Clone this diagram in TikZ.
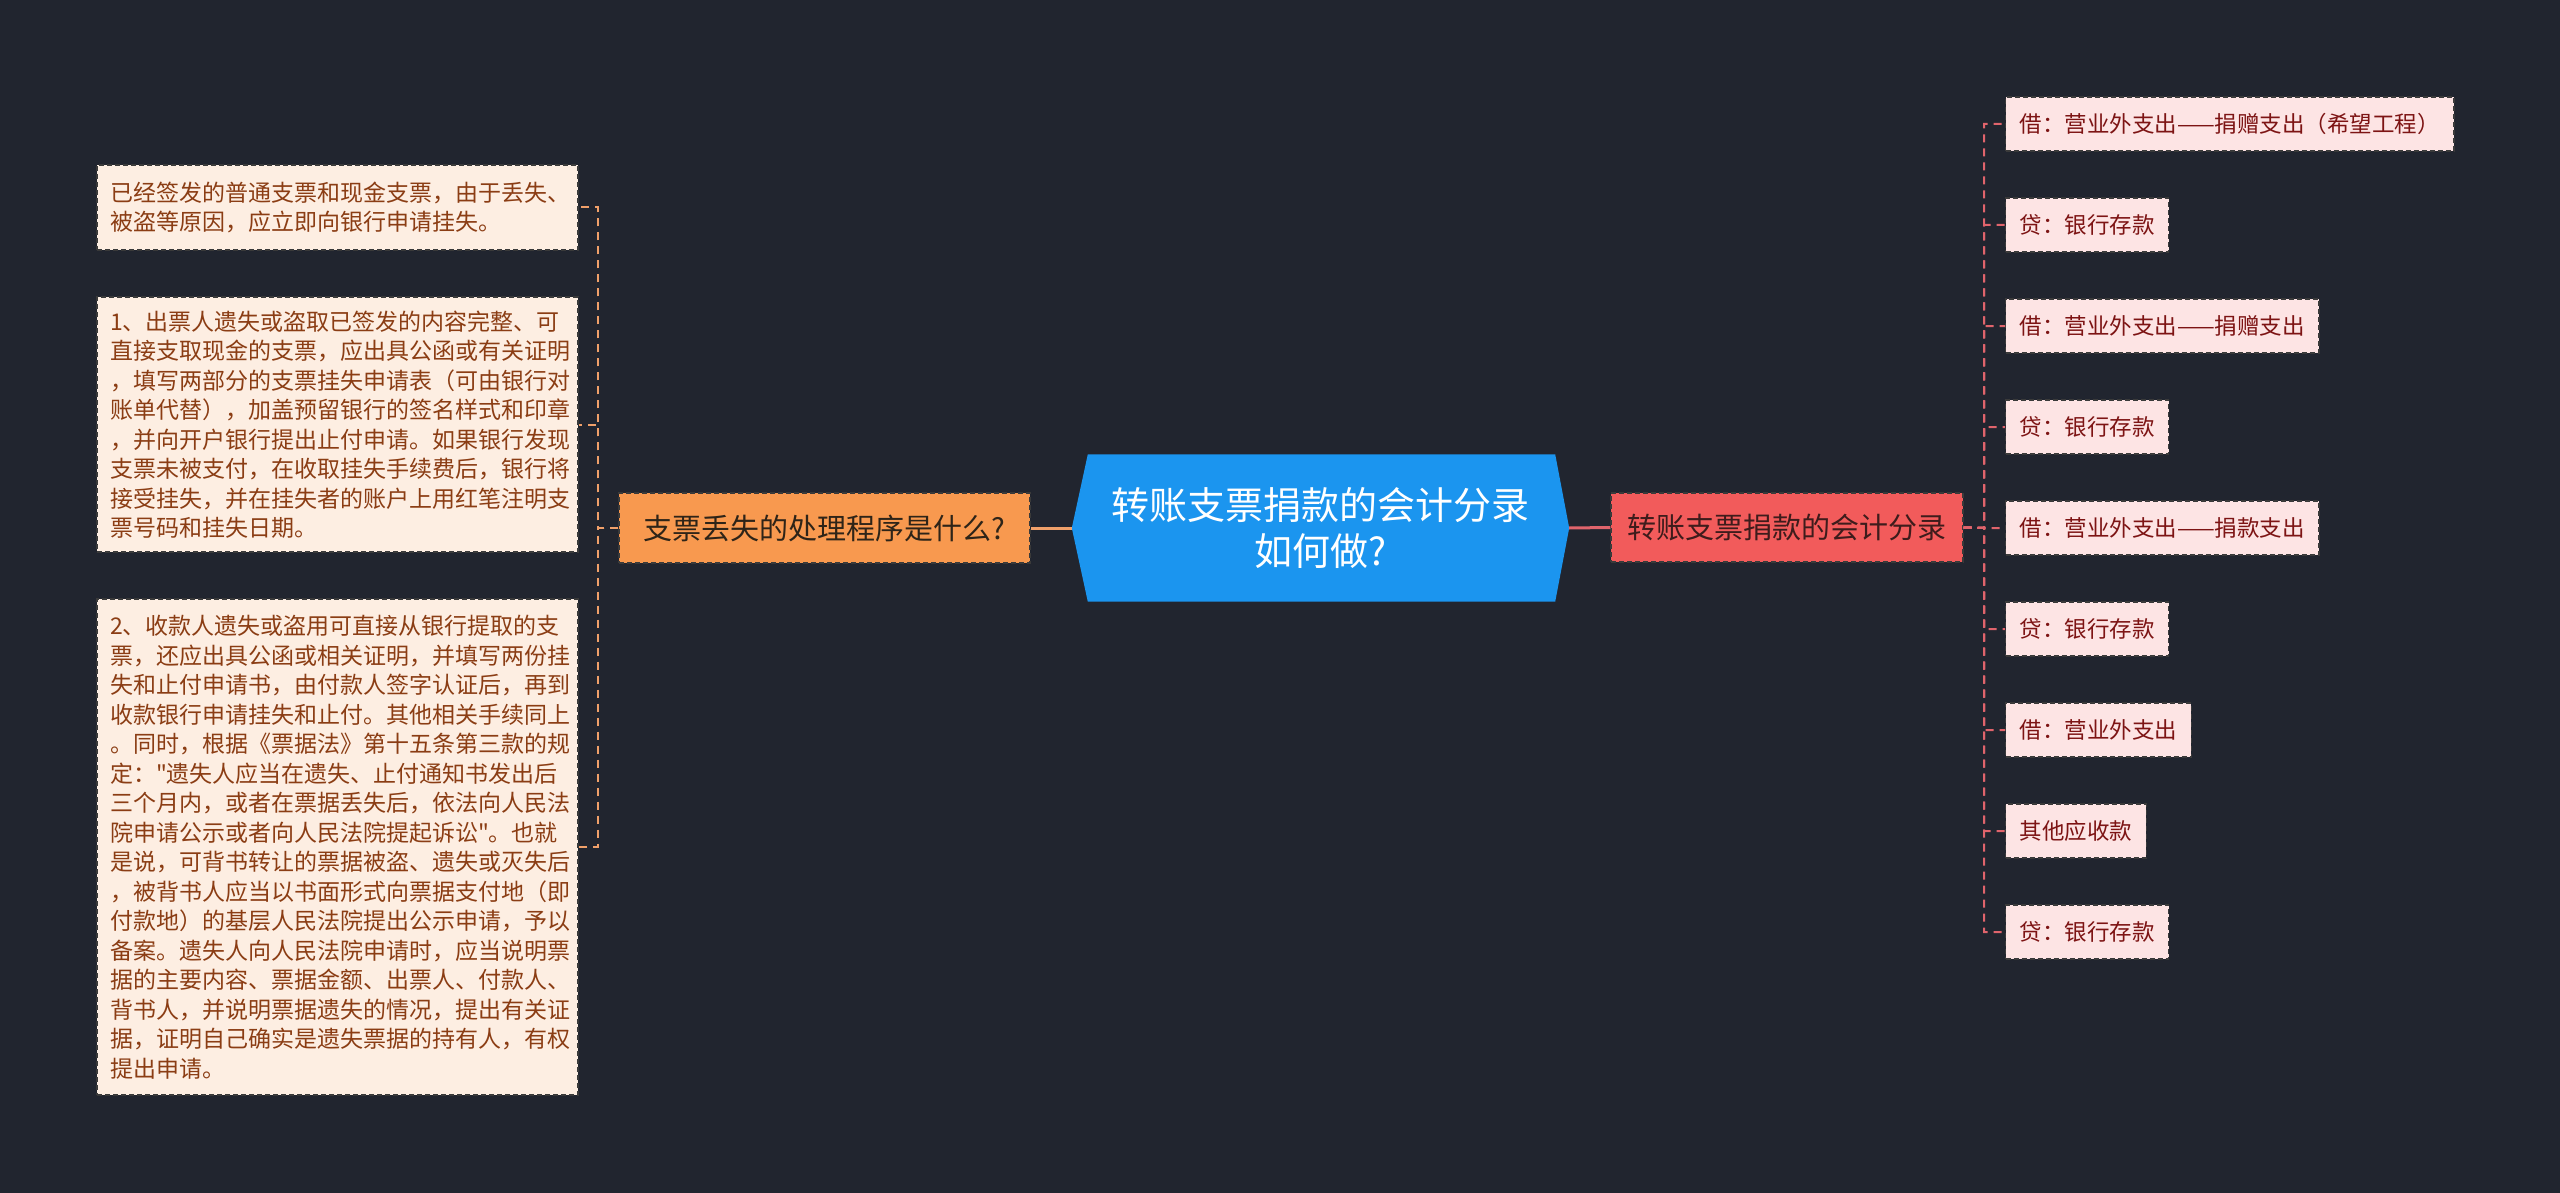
\documentclass[tikz,border=0pt]{standalone}
\usepackage{fontspec}
\newfontfamily\cjk{Noto Sans CJK SC}
\usetikzlibrary{calc}
\pgfdeclarelayer{back}
\pgfsetlayers{back,main}
\definecolor{bgc}{HTML}{21252F}
\definecolor{hexc}{HTML}{1B95EF}
\definecolor{orangec}{HTML}{F8994F}
\definecolor{redc}{HTML}{F25B5B}
\definecolor{lleaf}{HTML}{FDEEE2}
\definecolor{lleaftext}{HTML}{8B3D14}
\definecolor{rleaf}{HTML}{FDE4E4}
\definecolor{rleaftext}{HTML}{7D1414}
\definecolor{lline}{HTML}{F0A06A}
\definecolor{rline}{HTML}{E0646C}
\definecolor{bordc}{HTML}{3A3A3A}
\definecolor{otext}{HTML}{2E2418}
\definecolor{rtext}{HTML}{3E1C1C}
\tikzset{
  boxbase/.style={draw=bordc, line width=1.4pt, dash pattern=on 5pt off 3pt, rectangle},
  lleafbox/.style={boxbase, fill=lleaf, text=lleaftext, font=\cjk\fontsize{23}{29.5}\selectfont,
    text width=455pt, inner xsep=13pt, inner ysep=0pt, align=left, minimum width=481pt},
  rleafbox/.style={boxbase, fill=rleaf, text=rleaftext, font=\cjk\fontsize{22.5}{27}\selectfont,
    inner xsep=14pt, inner ysep=0pt, minimum height=54pt, anchor=west},
  obox/.style={boxbase, fill=orangec, text=otext, font=\cjk\fontsize{29}{35}\selectfont,
    minimum width=411pt, minimum height=70pt, inner sep=0pt},
  rbox/.style={boxbase, fill=redc, text=rtext, font=\cjk\fontsize{29}{35}\selectfont,
    minimum width=352pt, minimum height=69pt, inner sep=0pt},
  lconn/.style={draw=lline, line width=2pt, dash pattern=on 8pt off 6pt},
  rconn/.style={draw=rline, line width=2pt, dash pattern=on 8pt off 6pt},
  lmain/.style={draw=lline, line width=3pt},
  rmain/.style={draw=rline, line width=3pt},
}
\begin{document}
\begin{tikzpicture}[x=1pt,y=-1pt]
\begin{pgfonlayer}{back}
\fill[bgc] (0,0) rectangle (2560,1193);
\end{pgfonlayer}
\useasboundingbox (0,0) rectangle (2560,1193);

% central
\node[font=\cjk\fontsize{38}{46}\selectfont, text=white, minimum width=497pt, minimum height=147pt,
  inner sep=0pt, align=center] (c) at (1320.5,528) {转账支票捐款的会计分录\\如何做?};
\begin{pgfonlayer}{back}
\fill[hexc] (c.west) -- ($(c.north west)+(16,0)$) -- ($(c.north east)+(-14,0)$) -- (c.east)
  -- ($(c.south east)+(-14,0)$) -- ($(c.south west)+(16,0)$) -- cycle;
\end{pgfonlayer}

% branches
\node[obox] (ob) at (824.5,528) {支票丢失的处理程序是什么?};
\node[rbox] (rb) at (1787,527.5) {转账支票捐款的会计分录};

\draw[lmain] (c.west) -- (ob.east);
\draw[rmain] (c.east) -- (rb.west);

% left leaves
\node[lleafbox, minimum height=85pt] (L1) at (337.5,207.5) {已经签发的普通支票和现金支票，由于丢失、\\被盗等原因，应立即向银行申请挂失。};
\node[lleafbox, minimum height=255pt] (L2) at (337.5,424.5) {1、出票人遗失或盗取已签发的内容完整、可\\直接支取现金的支票，应出具公函或有关证明\\，填写两部分的支票挂失申请表（可由银行对\\账单代替），加盖预留银行的签名样式和印章\\，并向开户银行提出止付申请。如果银行发现\\支票未被支付，在收取挂失手续费后，银行将\\接受挂失，并在挂失者的账户上用红笔注明支\\票号码和挂失日期。};
\node[lleafbox, minimum height=496pt] (L3) at (337.5,847) {2、收款人遗失或盗用可直接从银行提取的支\\票，还应出具公函或相关证明，并填写两份挂\\失和止付申请书，由付款人签字认证后，再到\\收款银行申请挂失和止付。其他相关手续同上\\。同时，根据《票据法》第十五条第三款的规\\定："遗失人应当在遗失、止付通知书发出后\\三个月内，或者在票据丢失后，依法向人民法\\院申请公示或者向人民法院提起诉讼"。也就\\是说，可背书转让的票据被盗、遗失或灭失后\\，被背书人应当以书面形式向票据支付地（即\\付款地）的基层人民法院提出公示申请，予以\\备案。遗失人向人民法院申请时，应当说明票\\据的主要内容、票据金额、出票人、付款人、\\背书人，并说明票据遗失的情况，提出有关证\\据，证明自己确实是遗失票据的持有人，有权\\提出申请。};

\coordinate (lj) at (598,528);
\foreach \n in {L1,L2,L3} {\draw[lconn] (ob.west) -- (lj) |- (\n.east);}

% right leaves
\node[rleafbox] (r1) at (2005,124) {借：营业外支出——捐赠支出（希望工程）};
\node[rleafbox] (r2) at (2005,225) {贷：银行存款};
\node[rleafbox] (r3) at (2005,326) {借：营业外支出——捐赠支出};
\node[rleafbox] (r4) at (2005,427) {贷：银行存款};
\node[rleafbox] (r5) at (2005,528) {借：营业外支出——捐款支出};
\node[rleafbox] (r6) at (2005,629) {贷：银行存款};
\node[rleafbox] (r7) at (2005,730) {借：营业外支出};
\node[rleafbox] (r8) at (2005,831) {其他应收款};
\node[rleafbox] (r9) at (2005,932) {贷：银行存款};

\coordinate (rj) at (1984,528);
\foreach \n in {r1,r2,r3,r4,r5,r6,r7,r8,r9} {\draw[rconn] (rb.east) -- (rj) |- (\n.west);}
\end{tikzpicture}
\end{document}
